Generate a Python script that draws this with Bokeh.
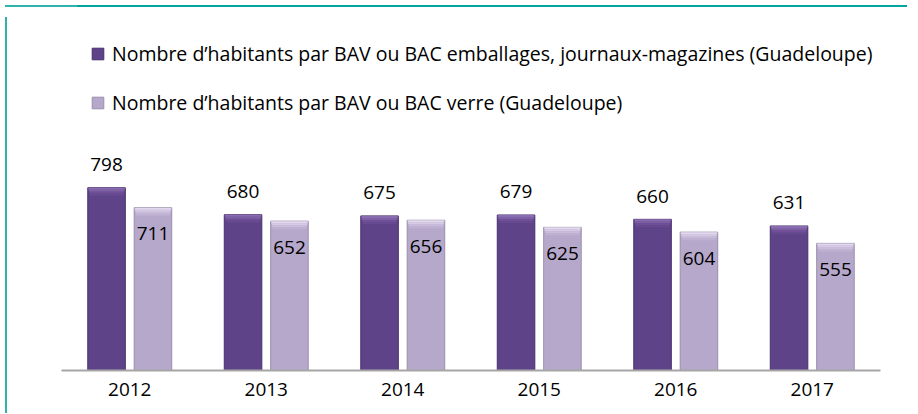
from bokeh.plotting import figure
from bokeh.models import (ColumnDataSource, FactorRange, Range1d, LabelSet, Legend,
                          LegendItem, Div)
from bokeh.layouts import column, row
from bokeh.transform import dodge
from bokeh.core.properties import value
from bokeh.embed import file_html
from bokeh.resources import INLINE

# ---------------- data ----------------
years = ["2012", "2013", "2014", "2015", "2016", "2017"]
emballages = [798, 680, 675, 679, 660, 631]
verre = [711, 652, 656, 625, 604, 555]
series_names = [
    "Nombre d\u2019habitants par BAV ou BAC emballages, journaux-magazines (Guadeloupe)",
    "Nombre d\u2019habitants par BAV ou BAC verre (Guadeloupe)",
]

# ---------------- style ----------------
FONT = "Open Sans"
FS = "19px"
LEG_FS = "19.5px"
W, H = 900, 396
BL, BR, BB, BT = 49, 32, 38, 0
Y_END = 1563
frame_h = H - BB - BT
px_per_unit = frame_h / Y_END

DARK = "#5e4388"
DARK_EDGE = "#47306c"
DARK_TOPS = ["#8a6db0", "#7e60a4", "#704f98", "#664a90"]
LIGHT = "#b6a8cb"
LIGHT_EDGE = "#9a8fab"
LIGHT_TOPS = ["#e2d9ee", "#d6cbe5", "#c9bddb", "#bfb1d2"]
TEAL = "#00a69e"
TEAL_LINE = "#2fb3ab"

data = dict(year=years, emb=emballages, ver=verre,
            emb_txt=[str(v) for v in emballages],
            ver_txt=[str(v) for v in verre])
# bevel strips at the top of each bar (2 px each), derived from the values
NB = 4
for k in range(NB):
    d_top = (k * 2) / px_per_unit
    d_bot = (k * 2 + 2) / px_per_unit
    data[f"emb_t{k}"] = [v - d_top for v in emballages]
    data[f"emb_b{k}"] = [v - d_bot for v in emballages]
    data[f"ver_t{k}"] = [v - d_top for v in verre]
    data[f"ver_b{k}"] = [v - d_bot for v in verre]
src = ColumnDataSource(data)

p = figure(x_range=FactorRange(*years), y_range=Range1d(0, Y_END),
           width=W, height=H, title=None,
           output_backend="svg", toolbar_location=None,
           min_border_left=BL, min_border_right=BR,
           min_border_bottom=BB, min_border_top=BT,
           background_fill_color="white", border_fill_color="white",
           outline_line_color=None)

OFF = 0.17
BW = 0.275
xe = dodge("year", -OFF, range=p.x_range)
xv = dodge("year", OFF, range=p.x_range)

p.vbar(x=xe, top="emb", bottom=0, width=BW, source=src,
       fill_color=DARK, line_color=DARK_EDGE, line_width=1)
p.vbar(x=xv, top="ver", bottom=0, width=BW, source=src,
       fill_color=LIGHT, line_color=LIGHT_EDGE, line_width=1)
for k in range(NB):
    p.vbar(x=xe, top=f"emb_t{k}", bottom=f"emb_b{k}", width=BW * (0.97 - 0.025 * k),
           source=src, fill_color=DARK_TOPS[k], line_color=None)
    p.vbar(x=xv, top=f"ver_t{k}", bottom=f"ver_b{k}", width=BW * (0.97 - 0.025 * k),
           source=src, fill_color=LIGHT_TOPS[k], line_color=None)

lab_e = LabelSet(x=xe, y="emb", text="emb_txt", y_offset=23, source=src,
                 text_align="center", text_baseline="middle",
                 text_font=value(FONT), text_font_size=value(FS), text_color="#000000")
lab_v = LabelSet(x=xv, y="ver", text="ver_txt", y_offset=-26, source=src,
                 text_align="center", text_baseline="middle",
                 text_font=value(FONT), text_font_size=value(FS), text_color="#000000")
p.add_layout(lab_e)
p.add_layout(lab_v)

# legend swatches (zero-size markers, only used to draw the legend squares)
r1 = p.scatter(x=years[:1], y=[0], size=0, marker="square",
               fill_color=DARK, line_color=DARK_EDGE)
r2 = p.scatter(x=years[:1], y=[0], size=0, marker="square",
               fill_color=LIGHT, line_color=LIGHT_EDGE)
legend = Legend(items=[LegendItem(label=value(series_names[0]), renderers=[r1]),
                       LegendItem(label=value(series_names[1]), renderers=[r2])],
                location=(22, 253), orientation="vertical",
                glyph_width=29, glyph_height=29, label_standoff=0, spacing=20,
                padding=0, margin=0, border_line_color=None,
                background_fill_alpha=0,
                label_text_font=FONT, label_text_font_size=LEG_FS,
                label_text_color="#000000")
p.add_layout(legend)

p.yaxis.visible = False
p.xgrid.grid_line_color = None
p.ygrid.grid_line_color = None
p.xaxis.axis_line_color = "#a6a6a6"
p.xaxis.axis_line_width = 2
p.xaxis.major_tick_line_color = None
p.xaxis.minor_tick_line_color = None
p.xaxis.major_tick_out = 0
p.xaxis.major_tick_in = 0
p.xaxis.major_label_standoff = 12
p.xaxis.major_label_text_font = FONT
p.xaxis.major_label_text_font_size = FS
p.xaxis.major_label_text_color = "#000000"

top = Div(text="", width=902, height=2,
          styles={"background": f"linear-gradient(to right, {TEAL_LINE} 72px, {TEAL} 72px)"})
left = Div(text="", width=2, height=H, styles={"background": TEAL_LINE})
layout = column(top, row(left, p, spacing=0), spacing=0)

open("out.html", "w").write(file_html(layout, INLINE))
